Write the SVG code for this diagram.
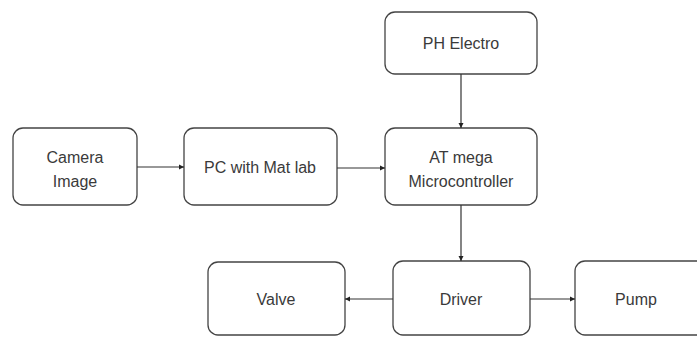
<svg xmlns="http://www.w3.org/2000/svg" width="697" height="337" viewBox="0 0 697 337">
<defs>
<marker id="ah" markerWidth="6" markerHeight="6" refX="5" refY="3" orient="auto" markerUnits="userSpaceOnUse">
<path d="M0,0.5 L5,3 L0,5.5 Z" fill="#222"/>
</marker>
<style>
.box{fill:#fff;stroke:#444;stroke-width:1.3}
.lbl{font-family:"Liberation Sans",Arial,sans-serif;font-size:16px;fill:#3a3a3a;text-anchor:middle;dominant-baseline:central}
.con{stroke:#333;stroke-width:1.2;fill:none;marker-end:url(#ah)}
</style>
</defs>
<rect width="697" height="337" fill="#fff"/>
<g id="camera"><rect class="box" x="13" y="128" width="124" height="77" rx="10"/><text class="lbl" x="75" y="157">Camera</text><text class="lbl" x="75" y="181">Image</text></g>
<g id="pc"><rect class="box" x="184" y="128" width="153" height="77" rx="10"/><text class="lbl" x="260" y="167">PC with Mat lab</text></g>
<g id="ph"><rect class="box" x="385" y="12" width="152" height="62" rx="10"/><text class="lbl" x="461" y="43">PH Electro</text></g>
<g id="atmega"><rect class="box" x="385" y="128" width="152" height="77" rx="10"/><text class="lbl" x="461" y="157">AT mega</text><text class="lbl" x="461" y="181">Microcontroller</text></g>
<g id="valve"><rect class="box" x="208" y="262" width="137" height="73" rx="10"/><text class="lbl" x="276" y="299">Valve</text></g>
<g id="driver"><rect class="box" x="393" y="261" width="137" height="74" rx="10"/><text class="lbl" x="461" y="299">Driver</text></g>
<g id="pump"><rect class="box" x="575" y="261" width="140" height="74" rx="10"/><text class="lbl" x="636" y="299">Pump</text></g>
<g id="connectors">
<line class="con" x1="137" y1="167" x2="184" y2="167"/>
<line class="con" x1="337" y1="168" x2="385" y2="168"/>
<line class="con" x1="461" y1="74" x2="461" y2="128"/>
<line class="con" x1="461" y1="205" x2="461" y2="261"/>
<line class="con" x1="393" y1="299" x2="345" y2="299"/>
<line class="con" x1="530" y1="299" x2="575" y2="299"/>
</g>
</svg>
